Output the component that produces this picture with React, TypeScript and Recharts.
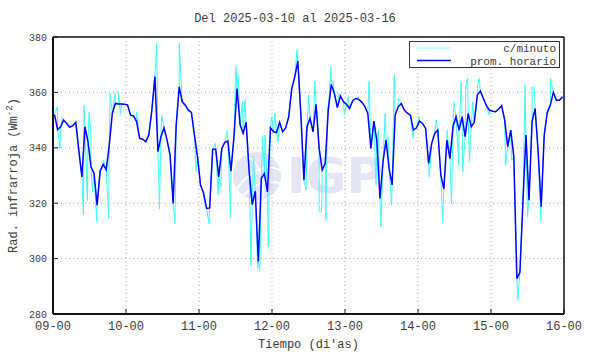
import { LineChart, Line, XAxis, YAxis, CartesianGrid } from 'recharts'

const title = 'Del 2025-03-10 al 2025-03-16'
const xTitle = "Tiempo (di'as)"
const seriesNames = ['c/minuto', 'prom. horario']

const dayTicks = [0, 24, 48, 72, 96, 120, 144, 168]
const dayLabels = ['09-00', '10-00', '11-00', '12-00', '13-00', '14-00', '15-00', '16-00']
const valueTicks = [280, 300, 320, 340, 360, 380]

// hourly average, one value per hour from 09-00 (plotted at the half hour)
const hourlyAvg = [
  352, 346.6, 347.6, 350, 348.8, 347.4, 348, 349.2, 339, 329.5, 347.6, 342.2,
  333.1, 330.7, 319.3, 331.6, 334, 332, 341, 352.4, 356, 355.8, 355.8, 355.7,
  355.5, 351.8, 351.5, 349.4, 343.4, 343.1, 342.2, 344.6, 353.6, 365.7, 338.6, 344,
  347.2, 342.8, 337.3, 319.9, 348.2, 362, 356.6, 355.4, 353.6, 352.8, 344.6, 336.8,
  326.6, 323.6, 318.1, 318.3, 339.5, 339.5, 329.5, 339.8, 342, 342.4, 331.6, 344,
  361.4, 348.4, 345.2, 349.2, 331.3, 319.5, 324.3, 299, 329, 330.7, 324.1, 347.2,
  345.8, 345.5, 349.2, 345.8, 347.2, 351.2, 361.4, 365.7, 371.3, 351.8, 328.3, 347.6,
  350.6, 345.8, 355.7, 339.8, 332, 334.4, 353.6, 362.9, 359.6, 354.5, 358.7, 356.6,
  355.7, 354.2, 356.9, 357.8, 357.5, 356.5, 355, 352.4, 339.8, 349.6, 342.2, 321.7,
  335, 342.8, 332.5, 326.6, 351.8, 354.8, 356, 353.6, 352.5, 351.8, 346.4, 347.2,
  349.6, 348.8, 347, 334.4, 341.6, 345.2, 346.4, 330.2, 325.1, 342.8, 336.1, 347.6,
  351.2, 346.4, 351.2, 344, 352.4, 347.6, 349.2, 359, 360.5, 357.8, 355.2, 353.6,
  353.2, 353, 354, 355.2, 350, 340.4, 346.4, 336.8, 292.8, 295, 320.5, 344.6,
  321.1, 349.4, 354.2, 338.6, 318.7, 344.6, 352.8, 355.4, 360, 357.2, 357.2, 358.4,
]

// per-minute excursions away from the hourly mean: [hour, value]
const minuteSpikes: [number, number][] = [
  [1.4, 354.8], [2.3, 339.8], [3.1, 351], [10.0, 315.7], [10.2, 355.4], [11.3, 321],
  [11.9, 353], [12.4, 345.8], [13.0, 324], [14.4, 313.3], [16.6, 335.5], [18.3, 314.5],
  [18.8, 359.6], [20.4, 359.6], [21.5, 360.2], [22.2, 352], [27.5, 353], [34.1, 377.7],
  [35.0, 318], [35.7, 351.8], [37.2, 344.6], [37.9, 341], [40.1, 312.6], [41.5, 377.7],
  [43.2, 355.4], [47.1, 331.3], [49.7, 320.5], [51.3, 312.6], [53.4, 341.6], [54.3, 323.1],
  [55.2, 326], [57.3, 346.4], [58.4, 314.7], [60.1, 369.3], [60.9, 366.3], [62.3, 356.6],
  [63.1, 357.2], [64.1, 336.8], [65.1, 297.6], [65.9, 336.8], [67.3, 296.4], [68.0, 295.8],
  [68.9, 344], [69.7, 344.6], [70.8, 304.2], [71.3, 340.4], [71.9, 351.2], [73.0, 352.4],
  [74.0, 342.2], [77.9, 356.6], [80.2, 375.3], [83.2, 324.7], [84.1, 359], [86.1, 363.9],
  [87.5, 316.9], [88.3, 316.9], [89.7, 313.9], [90.3, 354.8], [91.4, 369.3], [92.1, 363.9],
  [94.1, 359.6], [95.8, 351.8], [97.1, 358.4], [100.4, 358.4], [103.9, 363.9], [106.2, 326.6],
  [107.0, 346.4], [107.8, 311.4], [109.2, 352.4], [110.2, 343.4], [111.3, 319.3], [112.2, 366.3],
  [113.5, 357.8], [118.4, 343.4], [120.4, 351.2], [123.7, 329.5], [125.0, 342.8], [126.0, 350],
  [128.1, 313.3], [129.5, 346.4], [131.0, 319.9], [131.8, 356.6], [133.4, 333.7], [134.2, 363.9],
  [134.7, 331.3], [135.7, 362], [136.3, 365], [136.9, 335], [138.0, 356.6], [139.5, 362],
  [140.1, 365], [143.4, 351.8], [148.8, 333.7], [150.8, 335.5], [152.8, 285], [155.2, 362.7],
  [156.0, 315.1], [157.5, 362], [158.3, 361.4], [160.4, 313.3], [163.6, 365],
]

const hourlyData = hourlyAvg.map((v, i) => ({ t: i + 0.5, v }))
const minuteData = [...hourlyData, ...minuteSpikes.map(([t, v]) => ({ t, v }))].sort((a, b) => a.t - b.t)

const FONT = '"Liberation Mono", "DejaVu Sans Mono", monospace'
const TEXT = '#3a3a3a'

function YTitle(props: any) {
  const vb = props.viewBox
  const cy = vb.y + vb.height / 2
  return (
    <text x={17} y={cy} transform={`rotate(-90 17 ${cy})`} textAnchor="middle" fontSize={12} fontFamily={FONT} fill={TEXT}>
      Rad. infrarroja (Wm
      <tspan dy={-5} fontSize={9}>-2</tspan>
      <tspan dy={5}>)</tspan>
    </text>
  )
}

export default function App() {
  return (
    <div style={{ position: 'absolute', left: 0, top: 0, width: 590, height: 354, background: '#fff' }}>
      <svg width={590} height={354} style={{ position: 'absolute', left: 0, top: 0 }}>
        <text x={295} y={22} textAnchor="middle" fontSize={12} fontFamily={FONT} fill={TEXT}>{title}</text>
        <circle cx={257} cy={176} r={24} fill="#e4e4f5" />
        <path d="M236 190 Q257 160 280 170 M240 198 Q262 176 281 184 M246 155 Q268 170 262 199" stroke="#fff" strokeWidth={2} fill="none" />
        <text x={287} y={193} fontSize={50} fontWeight="bold" fontFamily="DejaVu Sans, sans-serif" fill="#e4e4f5">IGP</text>
      </svg>
      <div style={{ position: 'absolute', left: 0, top: 0 }}>
        <LineChart width={590} height={354} data={hourlyData} margin={{ top: 36, right: 25, bottom: 10, left: 13 }}>
          <CartesianGrid xAxisId="b" yAxisId="l" stroke="#aaa" strokeDasharray="1 3" />
          <XAxis
            xAxisId="b"
            type="number"
            dataKey="t"
            domain={[0, 168]}
            ticks={dayTicks}
            tickFormatter={(v: number) => dayLabels[dayTicks.indexOf(v)]}
            height={30}
            tickSize={-5}
            tickMargin={12}
            axisLine={{ stroke: '#111', strokeWidth: 2 }}
            tickLine={{ stroke: '#111' }}
            tick={{ fontSize: 12, fill: TEXT, fontFamily: FONT }}
            interval={0}
            label={{ value: xTitle, position: 'bottom', offset: -5, fontSize: 12, fill: TEXT, fontFamily: FONT }}
          />
          <XAxis
            xAxisId="t"
            orientation="top"
            type="number"
            dataKey="t"
            domain={[0, 168]}
            ticks={dayTicks}
            height={1}
            tickSize={-5}
            tick={false}
            interval={0}
            axisLine={{ stroke: '#111', strokeWidth: 1.5 }}
            tickLine={{ stroke: '#111' }}
          />
          <YAxis
            yAxisId="l"
            domain={[280, 380]}
            ticks={valueTicks}
            width={40}
            tickSize={-5}
            tickMargin={11}
            axisLine={{ stroke: '#111', strokeWidth: 2 }}
            tickLine={{ stroke: '#111' }}
            tick={{ fontSize: 10, fill: TEXT, fontFamily: FONT }}
            interval={0}
            label={<YTitle />}
          />
          <YAxis
            yAxisId="r"
            orientation="right"
            domain={[280, 380]}
            ticks={valueTicks}
            width={1}
            tickSize={-5}
            tick={false}
            interval={0}
            axisLine={{ stroke: '#111', strokeWidth: 1.5 }}
            tickLine={{ stroke: '#111' }}
          />
          <Line
            xAxisId="b"
            yAxisId="l"
            data={minuteData}
            dataKey="v"
            type="linear"
            stroke="#40f8f8"
            strokeWidth={1}
            dot={false}
            isAnimationActive={false}
          />
          <Line
            xAxisId="b"
            yAxisId="l"
            data={hourlyData}
            dataKey="v"
            type="linear"
            stroke="#0000ff"
            strokeWidth={1.5}
            dot={false}
            isAnimationActive={false}
          />
        </LineChart>
      </div>
      <svg width={152} height={28} style={{ position: 'absolute', left: 409, top: 41 }}>
        <rect x={0.5} y={0.5} width={150} height={26} fill="#fff" stroke="#333" />
        <line x1={8} x2={42} y1={7} y2={7} stroke="#7fffff" strokeWidth={1} />
        <text x={147} y={11} textAnchor="end" fontSize={11} fontFamily={FONT} fill={TEXT}>{seriesNames[0]}</text>
        <line x1={8} x2={42} y1={19.5} y2={19.5} stroke="#0000ff" strokeWidth={1.5} />
        <text x={147} y={24} textAnchor="end" fontSize={11} fontFamily={FONT} fill={TEXT}>{seriesNames[1]}</text>
      </svg>
    </div>
  )
}
